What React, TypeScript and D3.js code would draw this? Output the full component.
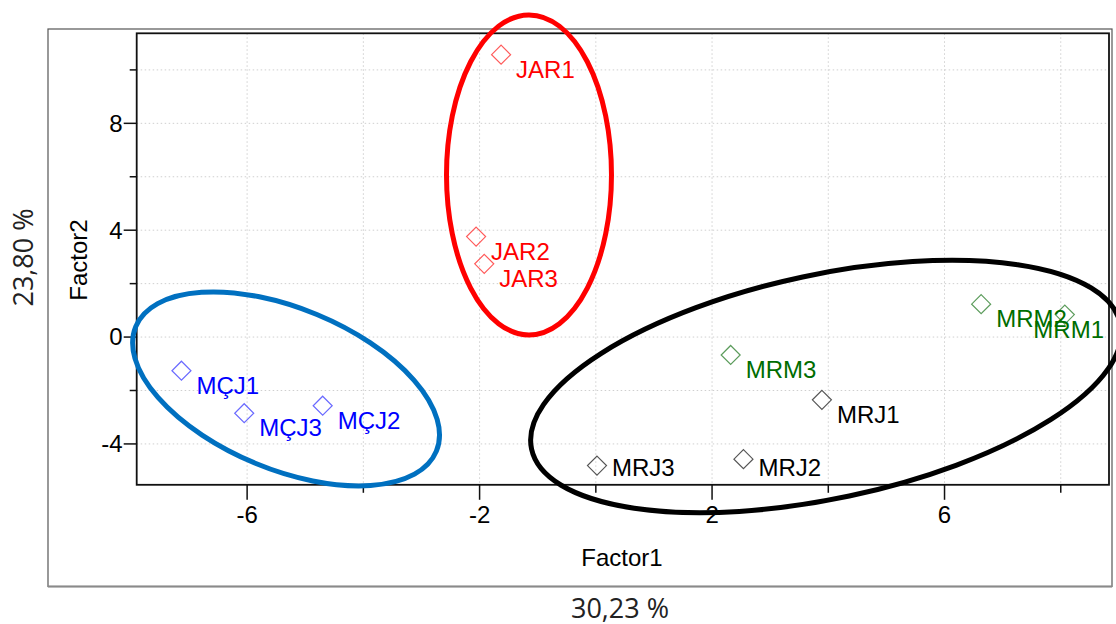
import { useMemo } from "react";
import * as d3 from "d3";

// PCA scores
const samples = ["MÇJ1", "MÇJ3", "MÇJ2", "JAR1", "JAR2", "JAR3", "MRM3", "MRJ1", "MRJ3", "MRJ2", "MRM2", "MRM1"];
const factor1 = [-7.13, -6.05, -4.7, -1.63, -2.06, -1.92, 2.32, 3.89, 0.02, 2.54, 6.63, 8.07];
const factor2 = [-1.26, -2.85, -2.57, 10.57, 3.76, 2.74, -0.67, -2.35, -4.81, -4.57, 1.23, 0.84];

const xTicks = [-6, -4, -2, 0, 2, 4, 6, 8];
const xLabelled = [-6, -2, 2, 6];
const yTicks = [-4, -2, 0, 2, 4, 6, 8, 10];
const yLabelled = [-4, 0, 4, 8];

const xTitle = "Factor1";
const yTitle = "Factor2";
const xVariance = "30,23 %";
const yVariance = "23,80 %";

// group styling
const groupStyle: Record<string, { text: string; marker: string }> = {
  "MÇJ": { text: "#0000ff", marker: "#6a6aff" },
  JAR: { text: "#ff0000", marker: "#ff5a5a" },
  MRM: { text: "#006d00", marker: "#5c9c5c" },
  MRJ: { text: "#000000", marker: "#555555" },
};

// hand drawn group ellipses: centre in data units, radii in px, angle in deg
const ellipses = [
  { cx: -5.33, cy: -1.94, rx: 162.7, ry: 80.5, angle: 22.5, color: "#0070c0" },
  { cx: -1.15, cy: 6.07, rx: 82.5, ry: 160, angle: 0, color: "#ff0000" },
  { cx: 3.96, cy: -1.85, rx: 301, ry: 112, angle: -12, color: "#000000" },
];

const W = 1116;
const H = 624;
const plot = { left: 136.7, right: 1109, top: 33.3, bottom: 484.8 };
const font = "'Liberation Sans', Arial, sans-serif";
const fs = 24;

export default function App() {
  const x = d3.scaleLinear().domain([-7.9, 8.83]).range([plot.left, plot.right]);
  const y = d3.scaleLinear().domain([-5.53, 11.37]).range([plot.bottom, plot.top]);

  const measure = useMemo(() => {
    const ctx = document.createElement("canvas").getContext("2d");
    if (ctx) ctx.font = `${fs}px 'Liberation Sans'`;
    return (s: string) => (ctx ? ctx.measureText(s).width : s.length * 15);
  }, []);

  const diamond = "M0,-9.5L9.5,0L0,9.5L-9.5,0Z";

  const points = samples.map((name, i) => {
    const px = x(factor1[i]);
    const py = y(factor2[i]);
    const group = name.slice(0, 3);
    // labels sit down-right of the marker, pushed back inside the frame
    let lx = px + 15;
    const tw = measure(name);
    if (lx + tw > plot.right - 5) lx = plot.right - 5 - tw;
    const ly = Math.min(py + 23, plot.bottom - 9);
    return { name, px, py, lx, ly, style: groupStyle[group] };
  });

  return (
    <svg width={W} height={H} style={{ position: "absolute", left: 0, top: 0 }} fontFamily={font}>
      <rect width={W} height={H} fill="#fff" />
      {/* outer frame */}
      <rect x={48} y={29} width={1064} height={557.5} fill="none" stroke="#555" strokeWidth={1.2} />
      <line x1={48} x2={1112} y1={586.5} y2={586.5} stroke="#8a8a8a" strokeWidth={2} />

      {/* grid */}
      {xTicks.map((t) => (
        <line key={`gx${t}`} x1={x(t)} x2={x(t)} y1={plot.top} y2={plot.bottom} stroke="#cfcfcf" strokeWidth={1} strokeDasharray="1.5,2.5" />
      ))}
      {yTicks.map((t) => (
        <line key={`gy${t}`} x1={plot.left} x2={plot.right} y1={y(t)} y2={y(t)} stroke="#cfcfcf" strokeWidth={1} strokeDasharray="1.5,2.5" />
      ))}

      <rect x={plot.left} y={plot.top} width={plot.right - plot.left} height={plot.bottom - plot.top} fill="none" stroke="#111" strokeWidth={1.8} />

      {/* ticks */}
      {xTicks.map((t) => {
        const major = xLabelled.includes(t);
        return (
          <g key={`tx${t}`}>
            <line x1={x(t)} x2={x(t)} y1={plot.bottom} y2={plot.bottom + (major ? 15 : 8)} stroke="#111" strokeWidth={1.5} />
            {major && (
              <text x={x(t)} y={523} textAnchor="middle" fontSize={fs} fill="#000">
                {t}
              </text>
            )}
          </g>
        );
      })}
      {yTicks.map((t) => {
        const major = yLabelled.includes(t);
        return (
          <g key={`ty${t}`}>
            <line x1={plot.left} x2={plot.left - (major ? 13 : 7)} y1={y(t)} y2={y(t)} stroke="#111" strokeWidth={1.5} />
            {major && (
              <text x={122.5} y={y(t)} dy="0.35em" textAnchor="end" fontSize={fs} fill="#000">
                {t}
              </text>
            )}
          </g>
        );
      })}

      {/* axis titles */}
      <text x={622} y={566} textAnchor="middle" fontSize={fs} fill="#000">
        {xTitle}
      </text>
      <text transform="translate(87,260) rotate(-90)" textAnchor="middle" fontSize={fs} fill="#000">
        {yTitle}
      </text>
      <text x={620} y={618} textAnchor="middle" fontSize={27} fontFamily="'Open Sans', sans-serif" fill="#222">
        {xVariance}
      </text>
      <text transform="translate(33,257.5) rotate(-90)" textAnchor="middle" fontSize={27} fontFamily="'Open Sans', sans-serif" fill="#222">
        {yVariance}
      </text>

      {/* points */}
      {points.map((p) => (
        <path key={`m${p.name}`} d={diamond} transform={`translate(${p.px},${p.py})`} fill="none" stroke={p.style.marker} strokeWidth={1.2} />
      ))}
      {points.map((p) => (
        <text key={`l${p.name}`} x={p.lx} y={p.ly} fontSize={fs} fill={p.style.text}>
          {p.name}
        </text>
      ))}

      {/* group ellipses */}
      {ellipses.map((e, i) => (
        <ellipse
          key={i}
          cx={0}
          cy={0}
          rx={e.rx}
          ry={e.ry}
          transform={`translate(${x(e.cx)},${y(e.cy)}) rotate(${e.angle})`}
          fill="none"
          stroke={e.color}
          strokeWidth={5}
        />
      ))}
    </svg>
  );
}
